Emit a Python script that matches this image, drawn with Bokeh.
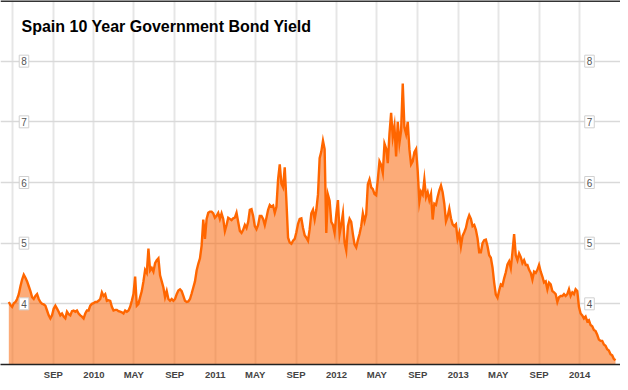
import pandas as pd
from bokeh.plotting import figure
from bokeh.models import Range1d, FixedTicker, Label, Span, ColumnDataSource
from bokeh.embed import file_html
from bokeh.resources import INLINE

title_text = "Spain 10 Year Government Bond Yield"

# series: yields read every 5 days starting 2009-04-20
start_date = "2009-04-20"
step = "5D"
yields = [
    4.03, 3.98, 3.95, 4.01, 4.03, 4.08, 4.16, 4.29, 4.40, 4.48,
    4.43, 4.37, 4.29, 4.21, 4.11, 4.08, 4.13, 4.16, 4.08, 4.03,
    4.00, 3.99, 3.97, 3.89, 3.81, 3.76, 3.81, 3.92, 3.97, 3.92,
    3.87, 3.81, 3.84, 3.79, 3.76, 3.87, 3.83, 3.81, 3.88, 3.89,
    3.87, 3.89, 3.84, 3.81, 3.79, 3.76, 3.84, 3.89, 3.89, 3.97,
    4.00, 4.01, 4.03, 4.03, 4.05, 4.08, 4.19, 4.13, 4.16, 4.05,
    4.06, 4.05, 3.95, 3.89, 3.90, 3.90, 3.88, 3.87, 3.86, 3.84,
    3.89, 3.87, 3.89, 3.95, 4.05, 4.16, 4.45, 3.97, 4.00, 4.11,
    4.21, 4.37, 4.56, 4.51, 4.91, 4.55, 4.59, 4.53, 4.67, 4.72,
    4.75, 4.47, 4.37, 4.27, 4.11, 4.21, 4.08, 4.05, 4.08, 4.05,
    4.08, 4.16, 4.22, 4.24, 4.21, 4.13, 4.05, 4.03, 4.04, 4.08,
    4.17, 4.27, 4.37, 4.55, 4.66, 4.75, 4.96, 5.39, 5.07, 5.40,
    5.50, 5.52, 5.52, 5.49, 5.42, 5.45, 5.50, 5.40, 5.49, 5.40,
    5.20, 5.30, 5.42, 5.40, 5.38, 5.41, 5.42, 5.50, 5.35, 5.20,
    5.17, 5.22, 5.30, 5.25, 5.35, 5.55, 5.56, 5.45, 5.28, 5.23,
    5.30, 5.45, 5.45, 5.40, 5.30, 5.42, 5.55, 5.63, 5.60, 5.62,
    5.50, 5.60, 6.05, 6.30, 5.98, 5.92, 6.25, 5.70, 5.09, 5.01,
    4.99, 5.04, 5.07, 5.18, 5.32, 5.40, 5.41, 5.25, 5.13, 5.09,
    5.04, 5.23, 5.49, 5.55, 5.39, 5.55, 5.80, 6.40, 6.51, 6.69,
    6.55, 5.17, 5.80, 5.70, 5.35, 5.30, 5.17, 5.47, 5.71, 5.15,
    5.31, 5.49, 5.01, 4.88, 5.28, 5.40, 5.35, 5.15, 4.98, 4.93,
    5.05, 5.15, 5.28, 5.49, 5.36, 5.47, 5.97, 6.05, 5.92, 5.89,
    5.81, 5.79, 6.05, 6.35, 6.29, 6.16, 6.64, 6.56, 6.32, 6.80,
    7.15, 6.75, 6.93, 6.43, 7.00, 6.65, 6.85, 7.63, 6.91, 6.80,
    7.00, 6.55, 6.30, 6.35, 6.50, 6.55, 6.19, 5.68, 5.85, 5.80,
    6.05, 5.76, 5.84, 5.71, 5.81, 5.39, 5.65, 5.63, 5.76, 5.87,
    5.95, 5.84, 5.65, 5.36, 5.44, 5.57, 5.41, 5.31, 5.28, 5.31,
    5.07, 5.17, 4.95, 5.12, 5.18, 5.25, 5.38, 5.46, 5.40, 5.28,
    5.30, 5.22, 5.08, 4.85, 4.85, 5.00, 5.05, 5.06, 4.95, 4.80,
    4.76, 4.60, 4.35, 4.15, 4.10, 4.22, 4.32, 4.30, 4.42, 4.52,
    4.65, 4.70, 4.59, 4.85, 5.15, 4.80, 4.72, 4.83, 4.77, 4.67,
    4.72, 4.64, 4.64, 4.56, 4.51, 4.40, 4.53, 4.51, 4.56, 4.64,
    4.53, 4.45, 4.35, 4.37, 4.24, 4.35, 4.32, 4.21, 4.19, 4.16,
    4.03, 4.11, 4.13, 4.13, 4.16, 4.13, 4.16, 4.24, 4.13, 4.19,
    4.16, 4.24, 4.21, 3.95, 3.84, 3.81, 3.76, 3.79, 3.71, 3.73,
    3.65, 3.63, 3.57, 3.55, 3.49, 3.41, 3.39, 3.39, 3.33, 3.31,
    3.25, 3.23, 3.17, 3.15, 3.09, 3.07,
]

tick_dates = ["2009-05-01", "2009-09-01", "2010-01-01", "2010-05-01", "2010-09-01",
              "2011-01-01", "2011-05-01", "2011-09-01", "2012-01-01", "2012-05-01",
              "2012-09-01", "2013-01-01", "2013-05-01", "2013-09-01", "2014-01-01"]
tick_labels = ["", "SEP", "2010", "MAY", "SEP", "2011", "MAY", "SEP", "2012", "MAY",
               "SEP", "2013", "MAY", "SEP", "2014"]

y_ticks = [4, 5, 6, 7, 8]
y_labels = ["4", "5", "6", "7", "8"]

x_start, x_end = "2009-03-26", "2014-05-04"
y_min, y_max = 3.0, 9.0

dates = pd.date_range(start_date, periods=len(yields), freq=step)
source = ColumnDataSource(dict(date=dates, yld=yields))

p = figure(width=620, height=382, x_axis_type="datetime",
           x_range=Range1d(pd.Timestamp(x_start), pd.Timestamp(x_end)),
           y_range=Range1d(y_min, y_max),
           y_axis_location=None,
           output_backend="svg", toolbar_location=None,
           min_border_left=0, min_border_right=0, min_border_top=0, min_border_bottom=0)
p.outline_line_color = None
p.background_fill_color = "white"
p.border_fill_color = "white"

p.varea(x="date", y1=0, y2="yld", source=source, fill_color="#f96a0f", fill_alpha=0.56)
p.line(x="date", y="yld", source=source, line_color="#ff6600", line_width=2.4,
       line_join="miter")

tick_ms = [float(pd.Timestamp(d).value // 10**6) for d in tick_dates]
ax = p.xaxis[0]
ax.ticker = FixedTicker(ticks=tick_ms)
ax.major_label_overrides = {t: l for t, l in zip(tick_ms, tick_labels)}
ax.axis_line_color = "#222222"
ax.axis_line_width = 1.5
ax.major_tick_line_color = None
ax.minor_tick_line_color = None
ax.major_tick_out = 0
ax.major_tick_in = 0
ax.major_label_standoff = 4
ax.major_label_text_font = "Liberation Sans"
ax.major_label_text_font_size = "9.5px"
ax.major_label_text_font_style = "bold"
ax.major_label_text_color = "#444444"

p.xgrid.grid_line_color = "#e6e6e6"
p.xgrid.grid_line_width = 2
p.ygrid.ticker = FixedTicker(ticks=y_ticks)
p.ygrid.grid_line_color = "#d9d9d9"
p.ygrid.grid_line_width = 1.5

p.add_layout(Span(location=y_max, dimension="width", line_color="#333333", line_width=3))

p.add_layout(Label(x=21, x_units="screen", y=8.57, text=title_text,
                   text_font="Liberation Sans", text_font_style="bold",
                   text_font_size="16px", text_color="#000000",
                   text_baseline="alphabetic", text_align="left"))

for v, s in zip(y_ticks, y_labels):
    for xs in (23.5, 589):
        p.add_layout(Label(x=xs, x_units="screen", y=v, text=s,
                           text_align="center", text_baseline="middle",
                           text_font="Liberation Sans", text_font_size="10px",
                           text_color="#555555", background_fill_color="white",
                           border_line_color="#d0d0d0", border_line_width=1,
                           padding=2))

open("out.html", "w").write(file_html(p, INLINE))
